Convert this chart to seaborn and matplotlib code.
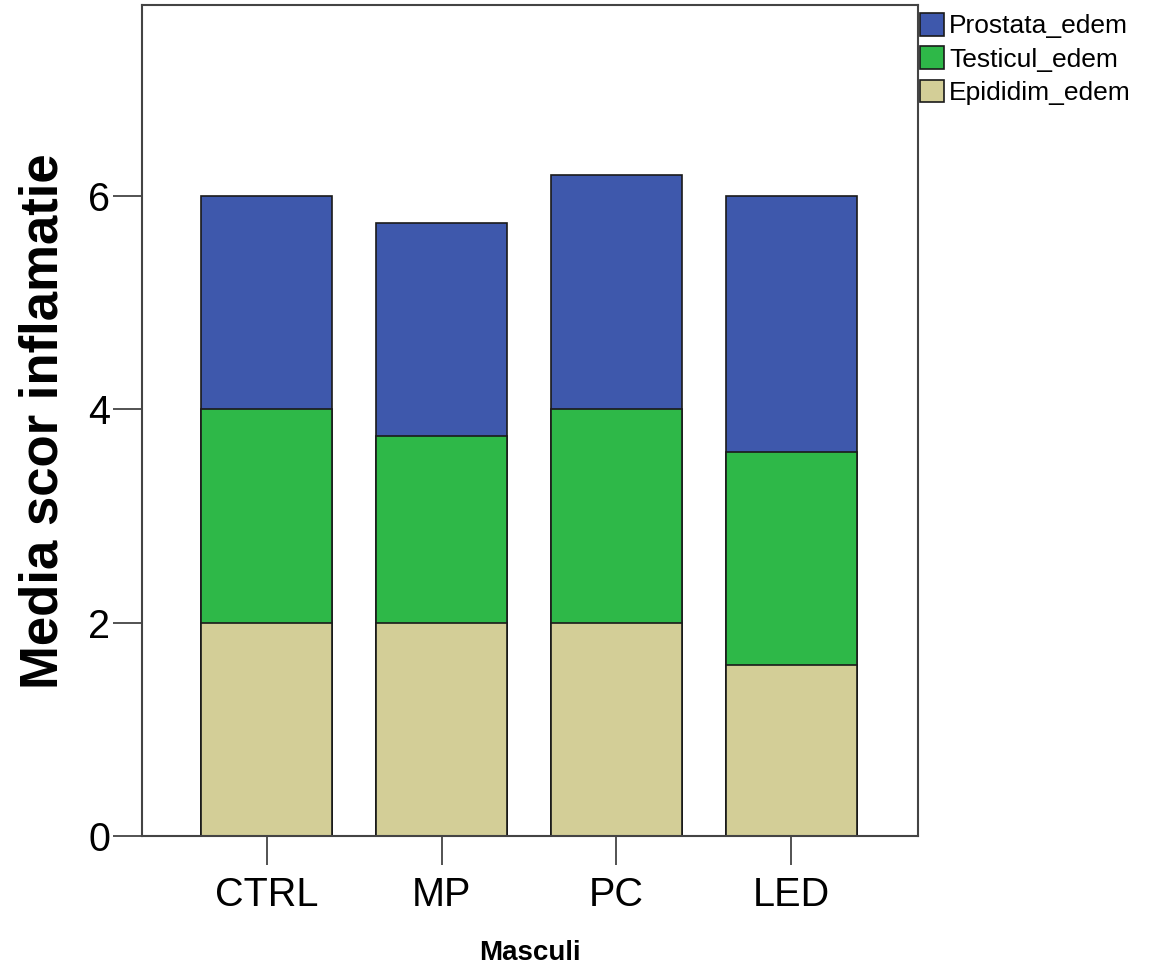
import numpy as np
import pandas as pd
import seaborn as sns
import matplotlib.pyplot as plt
from matplotlib.patches import Patch

# data
categories = ['CTRL', 'MP', 'PC', 'LED']
epididim = [2.0, 2.0, 2.0, 1.6]
testicul = [2.0, 1.75, 2.0, 2.0]
prostata = [2.0, 2.0, 2.2, 2.4]

series_names = ['Prostata_edem', 'Testicul_edem', 'Epididim_edem']
colors = {'Prostata_edem': '#3E58AC', 'Testicul_edem': '#2EB848', 'Epididim_edem': '#D3CE97'}

sns.set_style('white')
plt.rcParams['font.family'] = ['Liberation Sans', 'DejaVu Sans']
plt.rcParams['text.color'] = 'black'
plt.rcParams['axes.labelcolor'] = 'black'

df = pd.DataFrame({'Group': categories,
                   'Epididim_edem': epididim,
                   'Testicul_edem': testicul,
                   'Prostata_edem': prostata})
# cumulative heights so that overlapping bars look stacked
df['top_epid'] = df['Epididim_edem']
df['top_test'] = df['top_epid'] + df['Testicul_edem']
df['top_prost'] = df['top_test'] + df['Prostata_edem']

fig = plt.figure(figsize=(11.5, 9.68), dpi=100)
ax = fig.add_axes([142/1150, 1 - 836/968, (918-142)/1150, (836-5)/968])

for col, name in [('top_prost', 'Prostata_edem'), ('top_test', 'Testicul_edem'), ('top_epid', 'Epididim_edem')]:
    sns.barplot(data=df, x='Group', y=col, color=colors[name], width=0.75,
                edgecolor='#1a1a1a', linewidth=1.2, saturation=1, ax=ax)

ax.set_xlim(-0.714, 3.726)
ax.set_ylim(0, 7.79)
ax.set_yticks([0, 2, 4, 6])

for s in ax.spines.values():
    s.set_visible(True)
    s.set_color('#444444')
    s.set_linewidth(1.5)

ax.tick_params(axis='both', which='both', direction='out', length=21, width=1.3,
               color='#444444', labelsize=28.5, labelcolor='black')
ax.tick_params(axis='x', pad=8, bottom=True)
ax.tick_params(axis='y', pad=2, left=True)

ax.set_xlabel('Masculi', fontsize=20, fontweight='bold', color='black')
ax.xaxis.set_label_coords(0.5, (836 - 953) / 831)
ax.xaxis.label.set_va('center')
ax.set_ylabel('Media scor inflamatie', fontsize=38, fontweight='bold', color='black')
ax.yaxis.set_label_coords((44 - 142) / 776, (836 - 421) / 831)
ax.yaxis.label.set_va('center')

handles = [Patch(facecolor=colors[n], edgecolor='#1a1a1a', linewidth=1.2) for n in series_names]
leg = fig.legend(handles, series_names, loc='upper left',
                 bbox_to_anchor=(920/1150, 1 - 13/968), frameon=False,
                 fontsize=19, handlelength=0.9, handleheight=0.95,
                 handletextpad=0.2, labelspacing=0.3, borderaxespad=0, borderpad=0)
for t in leg.get_texts():
    t.set_color('black')

fig.savefig('out.png', dpi=100)
